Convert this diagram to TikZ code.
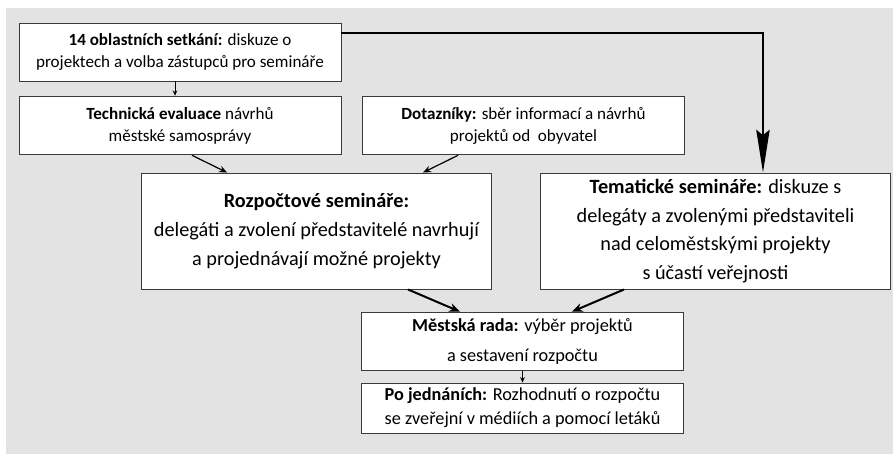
\documentclass[tikz,border=0pt]{standalone}
\usepackage{fontspec}
\setmainfont{Carlito}
\usetikzlibrary{arrows.meta}
\definecolor{bggray}{HTML}{E2E3E2}
\definecolor{edgegray}{HTML}{3A3A3A}
\tikzset{
  box/.style={draw=edgegray, line width=0.7pt, fill=white, align=center, inner sep=0pt},
  smallbox/.style={box, font=\fontsize{12.8}{16.5}\selectfont},
  bigbox/.style={box, font=\fontsize{15.2}{21.5}\selectfont},
  flow/.style={-{Stealth[length=6pt,width=5pt]}, line width=0.9pt},
  bigflow/.style={-{Stealth[length=8pt,width=6.5pt]}, line width=1.5pt},
  tinyflow/.style={-{Stealth[length=4pt,width=3.5pt]}, line width=0.7pt},
}
\begin{document}
\begin{tikzpicture}[x=0.75pt, y=-0.75pt]
    \useasboundingbox (0,0) rectangle (893,454);
    \fill[bggray] (6,8) rectangle (893,454);

    \node[smallbox, minimum width=241.5pt, minimum height=43.5pt] (meetings) at (180,52)
        {\textbf{14 oblastních setkání:} diskuze o\\ projektech a volba zástupců pro semináře};
    \node[smallbox, minimum width=241.5pt, minimum height=44pt] (evaluation) at (180,125.5)
        {\textbf{Technická evaluace} návrhů\\ městské samosprávy};
    \node[smallbox, minimum width=242pt, minimum height=44pt] (survey) at (523.5,125.5)
        {\textbf{Dotazníky:} sběr informací a návrhů\\ projektů od~ obyvatel};
    \node[bigbox, minimum width=262pt, minimum height=87pt] (budget) at (316.5,231)
        {\textbf{Rozpočtové semináře:}\\ delegáti a zvolení představitelé navrhují\\ a projednávají možné projekty};
    \node[bigbox, minimum width=262pt, minimum height=87pt] (thematic) at (715.5,231)
        {\textbf{Tematické semináře:} diskuze s\\ delegáty a zvolenými představiteli\\ nad celoměstskými projekty\\ s účastí veřejnosti};
    \node[box, font=\fontsize{13.7}{22.5}\selectfont, minimum width=241pt, minimum height=44pt] (council) at (522.5,341.5)
        {\textbf{Městská rada:} výběr projektů\\ a sestavení rozpočtu};
    \node[box, font=\fontsize{13.7}{18}\selectfont, minimum width=241pt, minimum height=37.5pt] (result) at (522.5,408)
        {\textbf{Po jednáních:} Rozhodnutí o rozpočtu\\ se zveřejní v médiích a pomocí letáků};

    \draw[tinyflow] ([xshift=-3.75pt]meetings.south) -- ([xshift=-3.75pt]evaluation.north);
    \draw[-{Stealth[length=32pt,width=10pt,inset=4pt]}, line width=2pt]
        ([yshift=14.25pt]meetings.east) -| ([xshift=35.6pt]thematic.north);
    \draw[flow] ([xshift=9pt]evaluation.south) -- ([xshift=-67.1pt]budget.north);
    \draw[flow] ([xshift=-49.1pt]survey.south) -- ([xshift=79.9pt]budget.north);
    \draw[bigflow] ([xshift=68.6pt]budget.south) -- ([xshift=-46.9pt]council.north);
    \draw[bigflow] ([xshift=-68.6pt]thematic.south) -- ([xshift=37.1pt]council.north);
    \draw[tinyflow] (council.south) -- (result.north);
\end{tikzpicture}
\end{document}
